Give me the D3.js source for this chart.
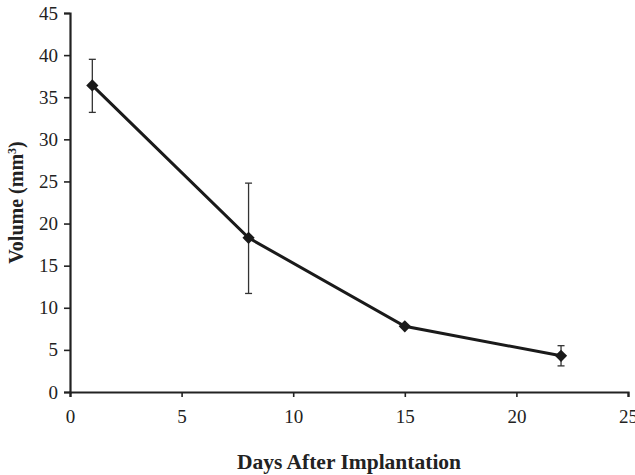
<!DOCTYPE html>
<html>
<head>
<meta charset="utf-8">
<script src="https://cdn.jsdelivr.net/npm/d3@7"></script>
<style>
  body { margin: 0; background: #fff; }
  text { font-family: "Liberation Serif", "Times New Roman", serif; fill: #222; }
</style>
</head>
<body>
<svg id="chart"></svg>
<script>
// values
const days = [1, 8, 15, 22];
const volume = [36.4, 18.3, 7.8, 4.3];
const errUp = [3.1, 6.5, 0, 1.2];
const errDown = [3.2, 6.6, 0, 1.2];
const xTicks = [0, 5, 10, 15, 20, 25];
const yTicks = [0, 5, 10, 15, 20, 25, 30, 35, 40, 45];

const width = 635, height = 475;
const margin = { top: 13, right: 7, bottom: 83, left: 70 };

const svg = d3.select("#chart")
  .attr("width", width)
  .attr("height", height);

const x = d3.scaleLinear().domain([0, 25]).range([margin.left, width - margin.right]);
const y = d3.scaleLinear().domain([0, 45]).range([height - margin.bottom, margin.top]);

const points = days.map((d, i) => ({ day: d, v: volume[i], up: errUp[i], down: errDown[i] }));

// axes
const xAxis = svg.append("g")
  .attr("transform", `translate(0,${y(0)})`)
  .call(d3.axisBottom(x).tickValues(xTicks).tickSize(5).tickPadding(13).tickFormat(d3.format("d")));
const yAxis = svg.append("g")
  .attr("transform", `translate(${x(0)},0)`)
  .call(d3.axisLeft(y).tickValues(yTicks).tickSize(6).tickPadding(6).tickFormat(d3.format("d")));

[xAxis, yAxis].forEach(g => {
  g.select(".domain").attr("stroke", "#222").attr("stroke-width", 2.2);
  g.selectAll(".tick line").attr("stroke", "#222").attr("stroke-width", 1.6);
  g.selectAll(".tick text").style("font-size", "19px").attr("fill", "#222");
});

// error bars
const cap = 3.5;
const eb = svg.append("g").attr("stroke", "#333").attr("stroke-width", 1.3);
points.filter(p => p.up > 0).forEach(p => {
  const cx = x(p.day);
  eb.append("line").attr("x1", cx).attr("x2", cx).attr("y1", y(p.v + p.up)).attr("y2", y(p.v - p.down));
  eb.append("line").attr("x1", cx - cap).attr("x2", cx + cap).attr("y1", y(p.v + p.up)).attr("y2", y(p.v + p.up));
  eb.append("line").attr("x1", cx - cap).attr("x2", cx + cap).attr("y1", y(p.v - p.down)).attr("y2", y(p.v - p.down));
});

// line
svg.append("path")
  .datum(points)
  .attr("fill", "none")
  .attr("stroke", "#1a1a1a")
  .attr("stroke-width", 3)
  .attr("d", d3.line().x(d => x(d.day)).y(d => y(d.v)));

// diamond markers
svg.selectAll(".marker")
  .data(points)
  .enter().append("path")
  .attr("class", "marker")
  .attr("transform", d => `translate(${x(d.day)},${y(d.v)})`)
  .attr("d", d3.symbol().type(d3.symbolDiamond2).size(95))
  .attr("fill", "#1a1a1a");

// titles
svg.append("text")
  .attr("x", (x(0) + x(25)) / 2)
  .attr("y", 469)
  .attr("text-anchor", "middle")
  .style("font-size", "21.5px")
  .style("font-weight", "bold")
  .text("Days After Implantation");

const yt = svg.append("text")
  .attr("transform", `translate(23,${(y(0) + y(45)) / 2}) rotate(-90)`)
  .attr("text-anchor", "middle")
  .style("font-size", "20px")
  .style("font-weight", "bold");
yt.append("tspan").text("Volume (mm");
yt.append("tspan").attr("dy", -7).style("font-size", "12px").text("3");
yt.append("tspan").attr("dy", 7).text(")");
</script>
</body>
</html>
